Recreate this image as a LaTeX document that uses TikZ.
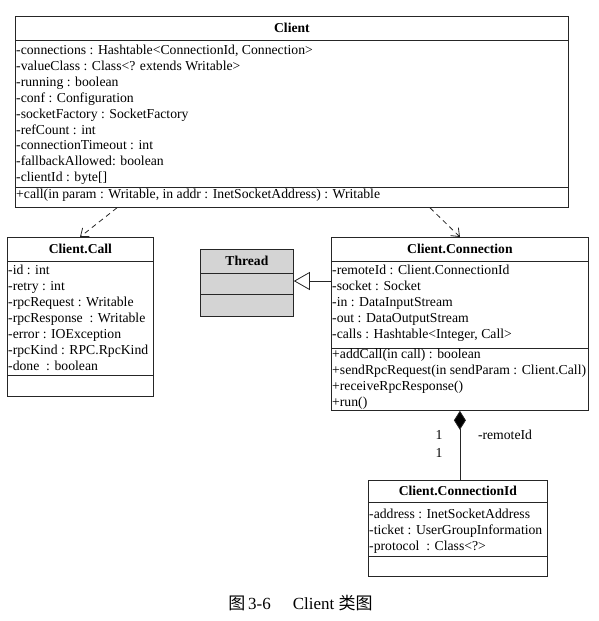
\documentclass[tikz,border=0pt]{standalone}
\usepackage{fontspec}
\setmainfont{Liberation Serif}
\newfontfamily\cjk{Noto Sans CJK SC}
\usetikzlibrary{arrows.meta}
\begin{document}
\begin{tikzpicture}[x=1pt,y=-1pt,
  umlbox/.style={draw=black!85, line width=0.8pt, inner sep=0pt, anchor=north west},
  sepline/.style={draw=black!85, line width=0.8pt},
  attr/.style={anchor=base west, inner sep=0pt, font=\fontsize{13.7}{15}\selectfont},
  ttl/.style={inner sep=0pt, font=\fontsize{13.6}{15}\selectfont\bfseries},
  dep/.style={draw=black!85, line width=0.8pt, dash pattern=on 5pt off 4pt, -{Straight Barb[length=7pt,width=11pt]}},
  gen/.style={draw=black!85, line width=0.8pt, -{Triangle[open,length=16pt,width=18pt,fill=white]}},
  comp/.style={draw=black!85, line width=0.8pt, {Diamond[length=19pt,width=12pt,fill=black]}-},
  lbl/.style={inner sep=0pt, font=\fontsize{13.7}{15}\selectfont}
]
\useasboundingbox (0,0) rectangle (598,621);

% ---------- Client ----------
\node[umlbox, minimum width=553pt, minimum height=191pt] (client) at (15,16) {};
\draw[sepline] ([yshift=-24pt]client.north west) -- ([yshift=-24pt]client.north east);
\draw[sepline] ([yshift=20pt]client.south west) -- ([yshift=20pt]client.south east);
\node[ttl] (clientT) at (client.north |- 0,28) {Client};
\foreach \t [count=\i] in {{-connections : Hashtable<ConnectionId, Connection>},
  {-valueClass : Class<? extends Writable>},
  {-running : boolean},
  {-conf : Configuration},
  {-socketFactory : SocketFactory},
  {-refCount : int},
  {-connectionTimeout : int},
  {-fallbackAllowed: boolean},
  {-clientId : byte[]}}
  \node[attr] (ca\i) at (16,{50+15.9*(\i-1)+4.5}) {\t};
\node[attr] (cm1) at (16,198.5) {+call(in param : Writable, in addr : InetSocketAddress) : Writable};

% ---------- Client.Call ----------
\node[umlbox, minimum width=146pt, minimum height=159pt] (call) at (7,237) {};
\draw[sepline] ([yshift=-24pt]call.north west) -- ([yshift=-24pt]call.north east);
\draw[sepline] ([yshift=21pt]call.south west) -- ([yshift=21pt]call.south east);
\node[ttl] (callT) at (call.north |- 0,249) {Client.Call};
\foreach \t [count=\i] in {{-id : int},{-retry : int},{-rpcRequest : Writable},
  {-rpcResponse\ \ : Writable},{-error : IOException},{-rpcKind : RPC.RpcKind},{-done\ \ : boolean}}
  \node[attr] (la\i) at (8,{270+16*(\i-1)+4.5}) {\t};

% ---------- Thread ----------
\node[umlbox, fill=black!17, minimum width=93pt, minimum height=67pt] (thread) at (200,249) {};
\draw[sepline] ([yshift=-24pt]thread.north west) -- ([yshift=-24pt]thread.north east);
\draw[sepline] ([yshift=22pt]thread.south west) -- ([yshift=22pt]thread.south east);
\node[ttl] (threadT) at (thread.north |- 0,261) {Thread};

% ---------- Client.Connection ----------
\node[umlbox, minimum width=257pt, minimum height=173pt] (conn) at (331,237) {};
\draw[sepline] ([yshift=-24pt]conn.north west) -- ([yshift=-24pt]conn.north east);
\draw[sepline] ([yshift=-111pt]conn.north west) -- ([yshift=-111pt]conn.north east);
\node[ttl] (connT) at (conn.north |- 0,249) {Client.Connection};
\foreach \t [count=\i] in {{-remoteId : Client.ConnectionId},{-socket : Socket},
  {-in : DataInputStream},{-out : DataOutputStream},{-calls : Hashtable<Integer, Call>}}
  \node[attr] (na\i) at (332,{270+16*(\i-1)+4.5}) {\t};
\foreach \t [count=\i] in {{+addCall(in call) : boolean},
  {+sendRpcRequest(in sendParam : Client.Call)},{+receiveRpcResponse()},{+run()}}
  \node[attr] (nm\i) at (332,{353.5+16.2*(\i-1)+4.5}) {\t};

% ---------- Client.ConnectionId ----------
\node[umlbox, minimum width=179pt, minimum height=96pt] (cid) at (368,480) {};
\draw[sepline] ([yshift=-22pt]cid.north west) -- ([yshift=-22pt]cid.north east);
\draw[sepline] ([yshift=20pt]cid.south west) -- ([yshift=20pt]cid.south east);
\node[ttl] (cidT) at (cid.north |- 0,491) {Client.ConnectionId};
\foreach \t [count=\i] in {{-address : InetSocketAddress},{-ticket : UserGroupInformation},
  {-protocol\ \ : Class<?>}}
  \node[attr] (ia\i) at (369,{514+16*(\i-1)+4.5}) {\t};

% ---------- connectors ----------
\coordinate (d1s) at ([xshift=102pt]client.south west);
\coordinate (d1e) at ([xshift=73pt]call.north west);
\draw[dep] (d1s) -- (d1e);
\coordinate (d2s) at ([xshift=415pt]client.south west);
\coordinate (d2e) at ([xshift=129pt]conn.north west);
\draw[dep] (d2s) -- (d2e);

\draw[gen] (conn.west |- 0,281) -- (thread.east |- 0,281);

\draw[comp] (conn.south) -- (conn.south |- cid.north);
\node[lbl] (m1) at (439,435) {1};
\node[lbl] (m2) at (439,453) {1};
\node[lbl] (role) at (505,435) {-remoteId};

% ---------- caption ----------
\node[inner sep=0pt, font=\fontsize{17}{19}\selectfont] (cap) at (300.5,603)
  {{\cjk 图}\,3-6\hspace{1.3em}Client\ {\cjk 类图}};
\end{tikzpicture}
\end{document}
